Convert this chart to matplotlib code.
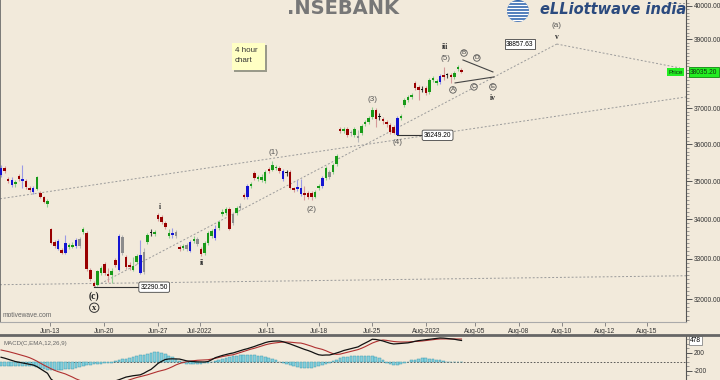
import matplotlib
matplotlib.use('Agg')
import matplotlib.pyplot as plt
import numpy as np
from matplotlib.ticker import FixedLocator, NullFormatter, FuncFormatter
from matplotlib.patches import Circle, Rectangle
from matplotlib.lines import Line2D
from matplotlib.transforms import IdentityTransform

# 4 hour bars, NSEBANK, Jun-2022 .. Aug-2022
opens = [35174, 35362, 35067, 35041, 34934, 35147, 35067, 35014, 34828, 34828,
         34802, 34696, 34591, 34406, 33758, 33426, 33248, 33223, 33147, 33299,
         33299, 33324, 33324, 33681, 33655, 32721, 32400, 32351, 32646, 32871,
         32621, 32597, 32971, 32721, 33553, 33047, 32846, 32721, 32921, 32646,
         32671, 33426, 33655, 33630, 34120, 34068, 33912, 33579, 33655, 33579,
         33299, 33274, 33248, 33198, 33451, 33502, 33248, 33147, 33400, 33579,
         33528, 33784, 34146, 34172, 34276, 33912, 34172, 34302, 34643, 34591,
         34881, 35227, 35067, 35041, 35014, 35335, 35308, 35362, 35362, 35282,
         35255, 35255, 34828, 34802, 34828, 34696, 34696, 34696, 34591, 34828,
         34881, 35094, 35255, 35255, 35470, 36426, 36372, 36426, 36316, 36260,
         36233, 36316, 36565, 36621, 36760, 36956, 36788, 36704, 36621, 36537,
         36482, 36260, 36732, 37097, 37238, 37323, 37724, 37610, 37552, 37581,
         37467, 37810, 37724, 37752, 37954, 37954, 37954, 37896, 38128, 38099]
highs = [35443, 35416, 35120, 35120, 35041, 35201, 35443, 35067, 34881, 34881,
         35147, 34749, 34617, 34538, 33784, 33477, 33502, 33274, 33604, 33400,
         33426, 33528, 33553, 33809, 33707, 32771, 32449, 32721, 32821, 32921,
         32771, 32771, 33022, 33630, 33604, 33097, 32921, 33047, 33122, 33477,
         33274, 33655, 33758, 33732, 34172, 34120, 33964, 33758, 33784, 33732,
         33349, 33375, 33400, 33477, 33579, 33553, 33299, 33451, 33707, 33758,
         33861, 33990, 34276, 34328, 34328, 34198, 34354, 34433, 34696, 34934,
         34987, 35282, 35174, 35201, 35308, 35389, 35551, 35443, 35416, 35335,
         35308, 35308, 34855, 35041, 35067, 34881, 34749, 34749, 34776, 34934,
         35147, 35416, 35308, 35497, 35740, 36482, 36482, 36482, 36399, 36482,
         36399, 36565, 36677, 36788, 37041, 37013, 36872, 36760, 36677, 36593,
         36537, 36788, 36844, 37295, 37380, 37437, 37781, 37667, 37638, 37638,
         37867, 37925, 37838, 37983, 38186, 38012, 38012, 38070, 38245, 38157]
lows = [35120, 35228, 34961, 34855, 34855, 35014, 34828, 34802, 34723, 34670,
        34776, 34565, 34433, 34328, 33375, 33274, 33223, 33122, 33122, 33248,
        33274, 33274, 33274, 33630, 32696, 32449, 32290.5, 32326, 32597, 32597,
        32425, 32400, 32796, 32696, 33097, 32746, 32721, 32696, 32871, 32621,
        32621, 33375, 33579, 33579, 33964, 33887, 33758, 33528, 33528, 33528,
        33198, 33223, 33198, 33172, 33400, 33324, 33072, 33097, 33349, 33528,
        33477, 33732, 34094, 34120, 33732, 33861, 34120, 34250, 34538, 34538,
        34828, 35041, 35014, 34987, 34961, 35227, 35282, 35308, 35227, 35014,
        35147, 34802, 34723, 34749, 34617, 34512, 34538, 34512, 34565, 34776,
        34828, 35041, 35067, 35201, 35416, 36316, 36316, 36205, 36233, 36205,
        36069, 36260, 36510, 36565, 36704, 36482, 36677, 36565, 36482, 36288,
        36288, 36249.2, 36677, 37041, 37182, 37266, 37524, 37238, 37467, 37380,
        37409, 37752, 37667, 37695, 37810, 37867, 37724, 37838, 38070, 38012]
closes = [35362, 35282, 35014, 34908, 34987, 35067, 35014, 34855, 34776, 34723,
          35120, 34591, 34459, 34485, 33400, 33324, 33451, 33147, 33400, 33349,
          33349, 33477, 33502, 33758, 32746, 32498, 32326, 32696, 32771, 32646,
          32572, 32696, 32846, 33579, 33147, 32796, 32796, 32821, 33072, 33097,
          33172, 33604, 33640, 33681, 34016, 33938, 33809, 33655, 33604, 33681,
          33248, 33324, 33349, 33426, 33502, 33375, 33122, 33400, 33655, 33707,
          33758, 33938, 34198, 34276, 33758, 34146, 34302, 34354, 34591, 34881,
          34934, 35094, 35120, 35120, 35255, 35282, 35443, 35389, 35282, 35067,
          35227, 34828, 34776, 34855, 34670, 34643, 34591, 34591, 34723, 34881,
          35094, 35362, 35120, 35443, 35686, 36372, 36426, 36260, 36344, 36426,
          36178, 36510, 36621, 36732, 36956, 36704, 36760, 36649, 36565, 36344,
          36316, 36732, 36788, 37238, 37323, 37380, 37581, 37524, 37524, 37437,
          37810, 37867, 37781, 37925, 37896, 37940, 37896, 38012, 38186, 38035.2]
# bar colouring: g green, r red, b blue, k grey, d black
bar_kind = ("brrbgrbrrb" "grrgrrbrbg" "gbkgrrrggr" "rgrbkrrggb" "kgdgrrrgbk"
            "rgkbgkrggg" "bgggrkgkrb" "grgggrggrb" "drrbbrrrgg" "bgkggrgrkg"
            "kggggrdrrr" "rbggggrrdr" "gggbrdrggr")

# MACD(12,26,9) study, one value per bar
macd = [105, 85, 60, 35, 10, -5, -20, -35, -50, -67,
        -100, -150, -200, -250, -380, -440, -480, -510, -540, -555,
        -575, -590, -605, -615, -620, -610, -595, -575, -550, -520,
        -490, -455, -420, -395, -365, -335, -320, -305, -295, -285,
        -250, -205, -165, -100, -30, 15, 55, 67, 70, 68,
        65, 45, 25, 15, 8, 2, 0, 0, 10, 50,
        95, 120, 145, 165, 185, 200, 225, 250, 275, 295,
        320, 345, 375, 400, 430, 450, 460, 465, 466, 450,
        425, 400, 370, 340, 310, 280, 255, 225, 190, 160,
        150, 155, 155, 175, 200, 225, 255, 275, 295, 315,
        335, 380, 420, 460, 505, 500, 485, 466, 440, 415,
        400, 405, 412, 418, 425, 440, 460, 475, 485, 495,
        505, 515, 525, 533, 530, 522, 512, 505, 490, 478]
signal = [266, 250, 232, 212, 190, 168, 145, 122, 95, 60,
          20, -25, -70, -110, -150, -185, -215, -240, -265, -300,
          -335, -375, -405, -440, -470, -500, -525, -545, -555, -560,
          -555, -540, -520, -495, -460, -425, -395, -370, -345, -325,
          -305, -285, -260, -235, -210, -190, -170, -140, -105, -65,
          -35, -10, 5, 20, 30, 38, 42, 45, 50, 65,
          80, 100, 120, 135, 150, 160, 185, 210, 235, 260,
          285, 305, 330, 355, 380, 400, 415, 425, 435, 442,
          444, 440, 432, 424, 420, 400, 375, 350, 320, 300,
          280, 250, 215, 185, 170, 175, 195, 215, 235, 255,
          275, 305, 340, 380, 420, 450, 475, 488, 480, 468,
          455, 448, 444, 444, 445, 450, 455, 460, 466, 475,
          485, 495, 505, 511, 512, 512, 511, 511, 511, 510]
hist = [-80, -85, -90, -90, -85, -80, -85, -90, -95, -100,
        -120, -140, -160, -170, -180, -180, -175, -170, -165, -160,
        -150, -140, -120, -90, -70, -60, -50, -40, -35, -30,
        -25, -20, 20, 45, 60, 75, 90, 105, 125, 145,
        165, 185, 200, 215, 220, 205, 175, 140, 100, 60,
        20, -20, -35, -40, -45, -40, -35, -30, -25, -10,
        20, 45, 70, 95, 115, 130, 140, 150, 155, 158,
        155, 150, 140, 125, 105, 85, 60, 35, 10, -20,
        -45, -70, -95, -115, -130, -140, -140, -135, -120, -100,
        -75, -50, -20, 20, 50, 80, 100, 115, 125, 130,
        135, 135, 135, 130, 125, 110, 80, 40, -20, -45,
        -65, -65, -50, -25, 10, 35, 55, 70, 80, 80,
        75, 65, 50, 35, 20, 5, -5, -10, -10, -8]

# date axis (bar positions of the first bar of each day)
date_ticks = [13.7, 28.9, 44.0, 55.7, 74.5, 89.0, 103.9, 119.0, 132.8, 145.1, 157.1, 169.2, 181.0]
date_labels = ['Jun-13', 'Jun-20', 'Jun-27', 'Jul-2022', 'Jul-11', 'Jul-18', 'Jul-25',
               'Aug-2022', 'Aug-05', 'Aug-08', 'Aug-10', 'Aug-12', 'Aug-15']

# Elliott wave labels
wave_text = ['i', 'ii', '(1)', '(2)', '(3)', '(4)', 'iii', '(5)', 'A', 'B', 'C', 'D', 'E',
             'iv', '(a)', 'v', '(c)', 'x']
wave_bar = [44.5, 56.3, 76.2, 87.1, 104.2, 111.2, 124.4, 124.4, 126.6, 129.7, 132.5, 133.3,
            137.8, 137.8, 155.7, 155.7, 26.1, 26.1]
wave_price = [34328, 32896, 35767, 34250, 37238, 36041, 38771, 38419, 37524, 38594, 37610,
              38448, 37610, 37295, 39396, 39067, 32057, 31789]
wave_kind = ['roman', 'roman', 'paren', 'paren', 'paren', 'paren', 'roman', 'paren',
             'circ', 'circ', 'circ', 'circ', 'circ', 'roman', 'paren', 'roman', 'big', 'bigcirc']

last_price = 38035.2

BG = '#f2eadb'
FONT = 'Liberation Sans'
palette = {'g': ('#189a18', '#8fcf8f'), 'r': ('#990000', '#d59a9a'),
           'b': ('#1414d2', '#9a9ae6'), 'k': ('#8c8c8c', '#b8b8b8'),
           'd': ('#111111', '#444444')}

fig = plt.figure(figsize=(7.2, 3.8), dpi=100, facecolor=BG)
ax = fig.add_axes([0, 58 / 380, 686 / 720, 322 / 380], facecolor=BG)
ax.set_yscale('log')
ax.set_ylim(31445, 40183)
ax.set_xlim(-0.3, 191.9)

x = np.arange(len(closes))
o = np.array(opens, float)
c = np.array(closes, float)
lo_b = np.minimum(o, c)
hi_b = np.maximum(o, c)
height = np.maximum(hi_b - lo_b, lo_b * 0.0008)
ax.vlines(x, lows, highs, colors=[palette[k][1] for k in bar_kind], lw=0.8, zorder=3)
ax.bar(x, height, bottom=lo_b, width=0.7, color=[palette[k][0] for k in bar_kind],
       lw=0, zorder=4)

# trend channels
dot = dict(color='#9a9a9a', lw=0.7, ls=(0, (2, 2)), zorder=2)
ax.plot([-0.3, 191.9], [34538, 37323], **dot)
ax.plot([-0.3, 191.9], [32351, 32572], **dot)
ax.plot([26, 155.7], [32290.5, 38857.63], **dot)
ax.plot([155.7, 190.2], [38857.63, 38157], **dot)
ax.plot([186.5, 191.9], [40100, 40100], **dot)
ax.plot([129.4, 137.8], [38390, 38041], color='#444', lw=0.8, zorder=5)
ax.plot([127.2, 138.1], [37724, 37896], color='#444', lw=0.8, zorder=5)

# price callouts
box = dict(boxstyle='round,pad=0.25', fc='white', ec='#444', lw=0.6)
ax.plot([26, 39], [32290.5, 32290.5], color='#333', lw=0.8, zorder=5)
ax.text(42.9, 32290.5, '32290.50', fontsize=4.8, family=FONT, ha='center', va='center',
        bbox=box, zorder=6)
ax.plot([111, 118.2], [36249.2, 36249.2], color='#333', lw=0.8, zorder=5)
ax.text(122.3, 36249.2, '36249.20', fontsize=4.8, family=FONT, ha='center', va='center',
        bbox=box, zorder=6)
ax.text(145.4, 38857.63, '38857.63', fontsize=4.8, family=FONT, ha='center', va='center',
        bbox=dict(boxstyle='square,pad=0.25', fc='white', ec='#444', lw=0.6), zorder=6)

for t, xb, p, kind in zip(wave_text, wave_bar, wave_price, wave_kind):
    if kind == 'roman':
        ax.text(xb, p, t, fontsize=5.5, family='Liberation Serif', weight='bold',
                color='#333', ha='center', va='center', zorder=6)
    elif kind == 'paren':
        ax.text(xb, p, t, fontsize=5.8, family=FONT, color='#555', ha='center',
                va='center', zorder=6)
    elif kind == 'circ':
        ax.text(xb, p, t, fontsize=4.6, family=FONT, color='#444', ha='center', va='center',
                bbox=dict(boxstyle='circle,pad=0.12', fc='none', ec='#555', lw=0.6), zorder=6)
    elif kind == 'big':
        ax.text(xb, p, t, fontsize=7, family='Liberation Serif', weight='bold',
                color='#222', ha='center', va='center', zorder=6)
    else:
        ax.text(xb, p, t, fontsize=6, family='Liberation Serif', weight='bold', color='#222',
                ha='center', va='center',
                bbox=dict(boxstyle='circle,pad=0.08', fc='none', ec='#333', lw=0.7), zorder=6)

# axes styling (the 38000 label sits under the last-price tag)
ax.yaxis.tick_right()
ax.yaxis.set_major_locator(FixedLocator(np.arange(32000, 40001, 1000)))
ax.yaxis.set_major_formatter(FuncFormatter(lambda v, _: '' if v == 38000 else f'{v:.2f}'))
ax.yaxis.set_minor_locator(FixedLocator(np.arange(31500, 40200, 100)))
ax.yaxis.set_minor_formatter(NullFormatter())
ax.tick_params(axis='y', which='major', length=4, width=0.7, color='#555', labelsize=4.8,
               labelcolor='#333', pad=1.5)
ax.tick_params(axis='y', which='minor', length=2, width=0.5, color='#777')
for lab in ax.get_yticklabels():
    lab.set_family(FONT)
ax.set_xticks(date_ticks)
ax.set_xticklabels(date_labels, fontsize=4.8, family=FONT, color='#333')
ax.tick_params(axis='x', length=3, width=0.6, color='#777', pad=1)
ax.spines['top'].set_visible(False)
ax.spines['left'].set_color('#666')
ax.spines['left'].set_linewidth(1.2)
ax.spines['right'].set_color('#555')
ax.spines['bottom'].set_color('#aaa')
ax.spines['bottom'].set_linewidth(0.8)

# last price marker
ax.text(0.985, last_price, 'Price', transform=ax.get_yaxis_transform(), fontsize=4.6,
        family=FONT, ha='center', va='center', color='#113311',
        bbox=dict(boxstyle='square,pad=0.2', fc='#22ee22', ec='none'), zorder=7)
ax.text(1.006, last_price, f'{last_price:.2f}', transform=ax.get_yaxis_transform(),
        fontsize=4.8, family=FONT, ha='left', va='center', color='#113311', clip_on=False,
        bbox=dict(boxstyle='square,pad=0.2', fc='#22ee22', ec='#118811', lw=0.6), zorder=7)

ax.text(0.004, 0.015, 'motivewave.com', transform=ax.transAxes, fontsize=4.8, family=FONT,
        color='#666')

# title and logo
fig.text(343 / 720, 372 / 380, '.NSEBANK', fontsize=14, weight='bold', color='#777',
         ha='center', va='center')
globe = Circle((518, 369), 11, transform=IdentityTransform(), fc='#2f64ad', ec='none')
fig.patches.append(globe)
for yy in range(360, 380, 3):
    stripe = Line2D([505, 531], [yy, yy], transform=IdentityTransform(), color='white', lw=1.0)
    stripe.set_clip_path(globe)
    fig.lines.append(stripe)
fig.text(540 / 720, 370 / 380, 'eLLiottwave india', fontsize=10.5, style='italic',
         weight='bold', color='#2b4a7e', va='center', ha='left')

# note box
fig.patches.append(Rectangle((234, 308), 33, 27, transform=IdentityTransform(),
                             fc='#9a9a8a', ec='none'))
fig.patches.append(Rectangle((232, 310), 33, 27, transform=IdentityTransform(),
                             fc='#ffffc4', ec='none'))
fig.text(235 / 720, 329 / 380, '4 hour', fontsize=5.8, family=FONT, color='#333', va='center')
fig.text(235 / 720, 319 / 380, 'chart', fontsize=5.8, family=FONT, color='#333', va='center')

# panel separator
fig.add_artist(Line2D([0, 1], [45 / 380, 45 / 380], color='#666', lw=2))

# MACD panel
mx = fig.add_axes([0, 0, 686 / 720, 44 / 380], facecolor=BG)
mx.set_xlim(-0.3, 191.9)
mx.set_ylim(-400, 577)
mx.bar(x, hist, width=0.75, color='#86d0dc', edgecolor='#3d9bb0', lw=0.35, zorder=2)
mx.axhline(0, color='#444', lw=0.6, ls=(0, (2, 2)), zorder=1)
mx.plot(x, signal, color='#b03030', lw=0.8, zorder=3)
mx.plot(x, macd, color='#111111', lw=0.9, zorder=4)
mx.text(0.005, 0.84, 'MACD(C,EMA,12,26,9)', transform=mx.transAxes, fontsize=4.4,
        family=FONT, color='#666', va='center')
mx.set_xticks([])
mx.yaxis.tick_right()
mx.set_yticks([200, -200])
mx.set_yticklabels(['200', '-200'], fontsize=4.8, family=FONT, color='#333')
mx.yaxis.set_minor_locator(FixedLocator(np.arange(-400, 600, 100)))
mx.tick_params(axis='y', which='major', length=4, width=0.7, color='#555', pad=1.5)
mx.tick_params(axis='y', which='minor', length=2, width=0.5, color='#777')
for s in ['top', 'left', 'bottom']:
    mx.spines[s].set_visible(False)
mx.spines['right'].set_color('#555')
mx.text(1.006, macd[-1], f'{macd[-1]}', transform=mx.get_yaxis_transform(), fontsize=4.8,
        family=FONT, ha='left', va='center', clip_on=False,
        bbox=dict(boxstyle='square,pad=0.2', fc='white', ec='#888', lw=0.6))

fig.savefig('out.png', dpi=100, facecolor=BG)
